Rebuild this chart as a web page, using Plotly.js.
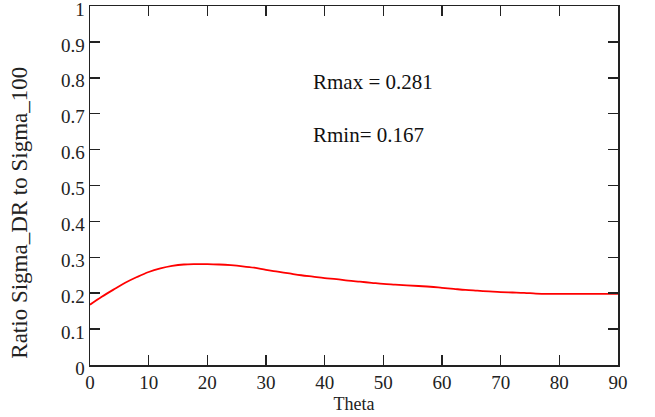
<!DOCTYPE html>
<html>
<head>
<meta charset="utf-8">
<script src="https://cdn.plot.ly/plotly-3.0.1.min.js"></script>
<style>html,body{margin:0;padding:0;background:#fff;}#chart{width:655px;height:417px;}</style>
</head>
<body>
<div id="chart"></div>
<script>
const theta = [0,2,4,6,8,10,12,14,16,18,20,22,24,26,28,30,32,34,36,38,40,42,44,46,48,50,52,54,56,58,60,62,64,66,68,70,72,74,76,78,80,82,84,86,88,90];
const ratio = [0.168,0.190,0.210,0.229,0.245,0.259,0.269,0.276,0.280,0.281,0.281,0.280,0.278,0.275,0.271,0.265,0.260,0.255,0.250,0.246,0.242,0.239,0.235,0.232,0.229,0.226,0.224,0.222,0.220,0.218,0.215,0.212,0.209,0.207,0.205,0.203,0.202,0.201,0.199,0.198,0.198,0.198,0.198,0.198,0.198,0.198];
const xTicks = [0,10,20,30,40,50,60,70,80,90];
const yTicks = [0,0.1,0.2,0.3,0.4,0.5,0.6,0.7,0.8,0.9,1];
const yTickText = ['0','0.1','0.2','0.3','0.4','0.5','0.6','0.7','0.8','0.9','1'];
const xTitle = 'Theta';
const yTitle = 'Ratio Sigma_DR to Sigma_100';
const rmaxText = 'Rmax = 0.281';
const rminText = 'Rmin= 0.167';

const font = 'Liberation Serif, Times New Roman, serif';
const axisCommon = {
  showline: true, linecolor: '#222', linewidth: 1.5, mirror: 'ticks',
  ticks: 'inside', ticklen: 10, tickwidth: 1.5, tickcolor: '#222',
  showgrid: false, zeroline: false, ticklabeloverflow: 'allow',
  tickfont: {family: font, size: 19, color: '#222'}
};
const data = [{
  x: theta, y: ratio, type: 'scatter', mode: 'lines',
  line: {color: '#ff0000', width: 1.8, shape: 'spline'}, hoverinfo: 'skip'
}];
const layout = {
  width: 655, height: 417,
  margin: {l: 90, r: 37, t: 6, b: 52},
  paper_bgcolor: '#fff', plot_bgcolor: '#fff',
  showlegend: false,
  xaxis: Object.assign({}, axisCommon, {
    range: [0, 90], tickvals: xTicks, ticktext: xTicks.map(String),
    title: {text: xTitle, font: {family: font, size: 18, color: '#222'}, standoff: 5}
  }),
  yaxis: Object.assign({}, axisCommon, {
    range: [0, 1], tickvals: yTicks, ticktext: yTickText, ticklabelshift: 3
  }),
  annotations: [
    {text: yTitle, xref: 'paper', yref: 'paper', x: -0.133, y: 0.4236, xanchor: 'center', yanchor: 'middle', textangle: -90, showarrow: false, font: {family: font, size: 23, color: '#222'}},
    {text: rmaxText, xref: 'paper', yref: 'paper', x: 0.418, y: 0.787, xanchor: 'left', yanchor: 'middle', showarrow: false, font: {family: font, size: 21, color: '#111'}},
    {text: rminText, xref: 'paper', yref: 'paper', x: 0.418, y: 0.6417, xanchor: 'left', yanchor: 'middle', showarrow: false, font: {family: font, size: 21, color: '#111'}}
  ]
};
Plotly.newPlot('chart', data, layout, {staticPlot: true, displayModeBar: false});
</script>
</body>
</html>
